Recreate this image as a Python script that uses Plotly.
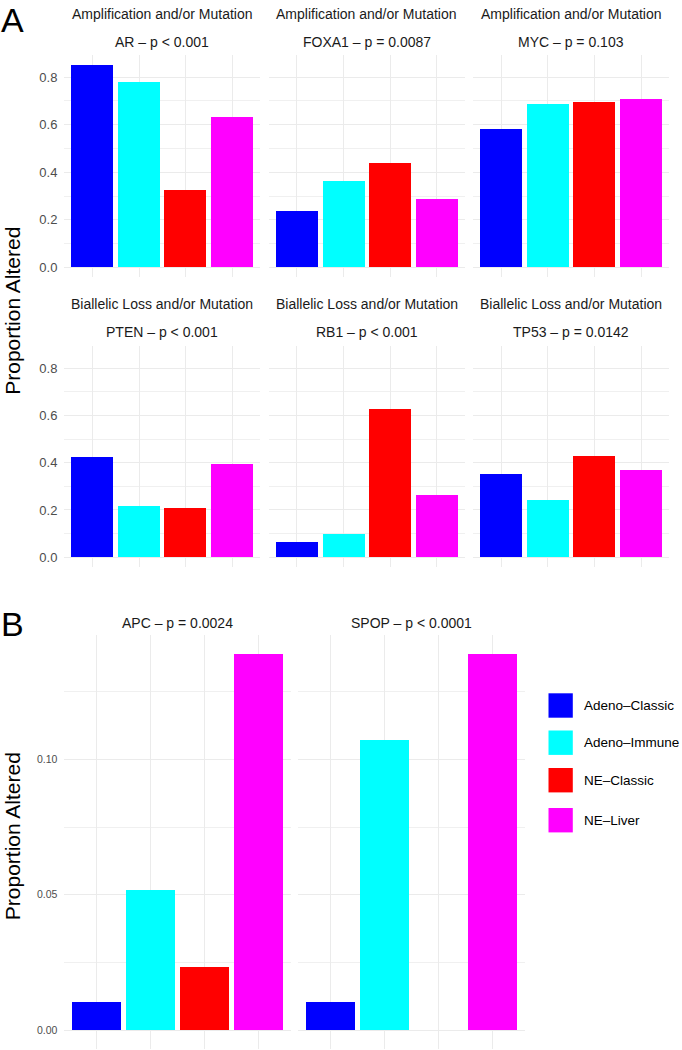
import plotly.graph_objects as go

W, H = 682, 1050
FONT = "Liberation Sans, Arial, Helvetica, sans-serif"

# groups / colours
groups = ["Adeno–Classic", "Adeno–Immune", "NE–Classic", "NE–Liver"]
group_colors = ["#0000FF", "#00FFFF", "#FF0000", "#FF00FF"]

# Panel A: proportion altered per group
a_genes = ["AR", "FOXA1", "MYC", "PTEN", "RB1", "TP53"]
a_kinds = ["Amplification and/or Mutation"] * 3 + ["Biallelic Loss and/or Mutation"] * 3
a_pvals = ["p < 0.001", "p = 0.0087", "p = 0.103", "p < 0.001", "p < 0.001", "p = 0.0142"]
ar = [0.850, 0.780, 0.324, 0.630]
foxa1 = [0.237, 0.363, 0.440, 0.288]
myc = [0.582, 0.685, 0.696, 0.709]
pten = [0.425, 0.214, 0.207, 0.395]
rb1 = [0.064, 0.097, 0.628, 0.261]
tp53 = [0.350, 0.241, 0.429, 0.368]
a_values = [ar, foxa1, myc, pten, rb1, tp53]

# Panel B
b_genes = ["APC", "SPOP"]
b_pvals = ["p = 0.0024", "p < 0.0001"]
apc = [0.0102, 0.0516, 0.0233, 0.139]
spop = [0.0102, 0.107, 0.0, 0.139]
b_values = [apc, spop]

# panel boxes in pixels (left, right) / (top, bottom)
A_COLS = [(64.4, 260.4), (268.8, 464.8), (473.2, 669.2)]
A_ROWS = [(55.2, 277.4), (346.3, 567.3)]
A_STRIP_Y = [(14, 41.7), (304.3, 332.3)]
B_COLS = [(64.4, 291.0), (298.4, 525.0)]
B_ROW = (635.1, 1048.8)
B_STRIP_Y = 622.7
LEGEND_Y = [705.5, 742.7, 780.2, 820.2]

GRID = "#EBEBEB"
MINOR = "#F0F0F0"


def px_x(p):
    return p / W


def px_y(p):
    return 1 - p / H


fig = go.Figure()
layout = {}
annotations = []


def add_panel(n, vals, cols, rows, ymax, first_col, dtick, minor_dtick, fmt, tick_size):
    fig.add_trace(go.Bar(
        x=groups, y=vals, width=0.9, showlegend=False,
        marker=dict(color=group_colors, line=dict(width=0)),
        xaxis=f"x{n}", yaxis=f"y{n}",
        hovertemplate="%{x}: %{y:.3f}<extra></extra>"))
    xk = "xaxis" if n == 1 else f"xaxis{n}"
    yk = "yaxis" if n == 1 else f"yaxis{n}"
    layout[xk] = dict(
        domain=[px_x(cols[0]), px_x(cols[1])], anchor=f"y{n}",
        type="category", categoryorder="array", categoryarray=groups,
        range=[-0.6, 3.6], showgrid=True, gridcolor=GRID, gridwidth=1,
        showticklabels=False, ticks="", zeroline=False, showline=False)
    layout[yk] = dict(
        domain=[px_y(rows[1]), px_y(rows[0])], anchor=f"x{n}",
        range=[-0.05 * ymax, 1.05 * ymax],
        tick0=0, dtick=dtick, tickformat=fmt,
        showgrid=True, gridcolor=GRID, gridwidth=1,
        minor=dict(dtick=minor_dtick, tick0=0, showgrid=True,
                   gridcolor=MINOR, gridwidth=1),
        showticklabels=first_col, ticks="", ticklabelstandoff=6,
        tickfont=dict(family=FONT, size=tick_size, color="#4D4D4D"),
        zeroline=False, showline=False)


def strip(text, xc, yc):
    annotations.append(dict(
        text=text, x=px_x(xc), y=px_y(yc), xref="paper", yref="paper",
        xanchor="center", yanchor="middle", showarrow=False,
        font=dict(family=FONT, size=14, color="#1A1A1A")))


ymax_a = max(max(v) for v in a_values)
for i, vals in enumerate(a_values):
    r, c = divmod(i, 3)
    add_panel(i + 1, vals, A_COLS[c], A_ROWS[r], ymax_a, c == 0,
              0.2, 0.1, ".1f", 13)
    xc = sum(A_COLS[c]) / 2
    strip(a_kinds[i], xc, A_STRIP_Y[r][0])
    strip(f"{a_genes[i]} – {a_pvals[i]}", xc, A_STRIP_Y[r][1])

ymax_b = max(max(v) for v in b_values)
for j, vals in enumerate(b_values):
    add_panel(7 + j, vals, B_COLS[j], B_ROW, ymax_b, j == 0,
              0.05, 0.025, ".2f", 10.5)
    strip(f"{b_genes[j]} – {b_pvals[j]}", sum(B_COLS[j]) / 2, B_STRIP_Y)

# y titles
for yc in [(A_ROWS[0][0] + A_ROWS[1][1]) / 2, 836.7]:
    annotations.append(dict(
        text="Proportion Altered", x=0, y=px_y(yc), xref="paper", yref="paper",
        xanchor="left", yanchor="middle", textangle=-90, showarrow=False,
        borderpad=0, font=dict(family=FONT, size=21, color="black")))

# panel letters
for letter, ytop in [("A", 0), ("B", 604)]:
    annotations.append(dict(
        text=letter, x=0, y=px_y(ytop), xref="paper", yref="paper",
        xanchor="left", yanchor="top", showarrow=False, borderpad=0,
        font=dict(family=FONT, size=34, color="black")))

# legend (keys + labels)
shapes = []
for g, col, yc in zip(groups, group_colors, LEGEND_Y):
    shapes.append(dict(type="rect", xref="paper", yref="paper",
                       x0=px_x(548.5), x1=px_x(572.8),
                       y0=px_y(yc + 12.2), y1=px_y(yc - 12.2),
                       fillcolor=col, line=dict(width=0)))
    annotations.append(dict(
        text=g, x=px_x(583), y=px_y(yc), xref="paper", yref="paper",
        xanchor="left", yanchor="middle", showarrow=False, borderpad=0,
        font=dict(family=FONT, size=13.5, color="black")))

fig.update_layout(
    **layout,
    width=W, height=H,
    margin=dict(l=0, r=0, t=0, b=0),
    paper_bgcolor="white", plot_bgcolor="white",
    bargap=0, showlegend=False,
    annotations=annotations, shapes=shapes,
    font=dict(family=FONT))

# drop the default page margin so the figure sits at the window's corner
fig.write_html("out.html",
               config={"displayModeBar": False},
               post_script="document.documentElement.style.margin='0';"
                           "document.body.style.margin='0';")
